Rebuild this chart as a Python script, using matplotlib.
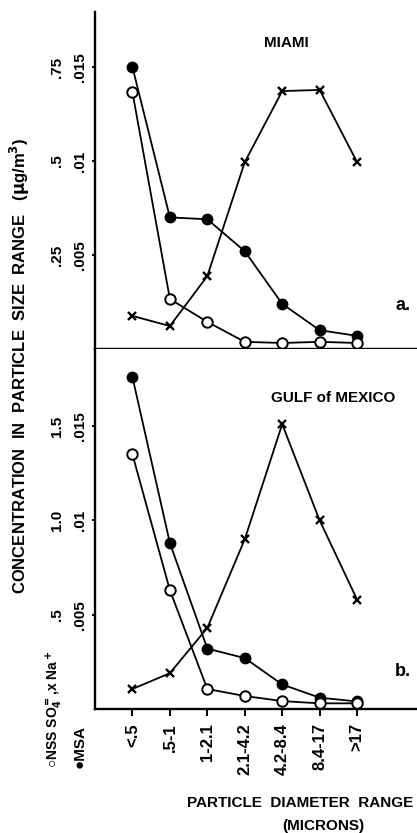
import matplotlib
matplotlib.use('Agg')
import matplotlib.pyplot as plt

plt.rcParams['font.family'] = ['Liberation Sans', 'DejaVu Sans']
plt.rcParams['font.weight'] = 'bold'
plt.rcParams['mathtext.default'] = 'bf'

# particle size classes (microns)
cats = ['<.5', '.5-1', '1-2.1', '2.1-4.2', '4.2-8.4', '8.4-17', '>17']

# MIAMI  (MSA on the small scale, NSS SO4= and Na+ on the large scale, ug/m3)
miami_msa = [0.0150, 0.0070, 0.0069, 0.0052, 0.0024, 0.0010, 0.0007]
miami_nss = [0.683, 0.133, 0.072, 0.019, 0.016, 0.019, 0.016]
miami_na = [0.088, 0.061, 0.194, 0.497, 0.686, 0.689, 0.497]

# GULF of MEXICO
gulf_msa = [0.0176, 0.0088, 0.0032, 0.0027, 0.0013, 0.0006, 0.0004]
gulf_nss = [1.35, 0.63, 0.106, 0.069, 0.042, 0.030, 0.030]
gulf_na = [0.106, 0.19, 0.43, 0.90, 1.51, 1.00, 0.58]

inner_ticks = [0.005, 0.01, 0.015]
inner_labels = ['.005', '.01', '.015']
miami_outer = [0.25, 0.5, 0.75]
miami_outer_labels = ['.25', '.5', '.75']
gulf_outer = [0.5, 1.0, 1.5]
gulf_outer_labels = ['.5', '1.0', '1.5']

FS = 11
x = list(range(len(cats)))

fig = plt.figure(figsize=(4.17, 8.33), dpi=100)
ax1 = fig.add_axes([95/417, 1-349/833, 1-95/417, (349-12)/833])
ax2 = fig.add_axes([95/417, 1-709/833, 1-95/417, (709-349)/833])


def panel(ax, msa, nss, na, factor, ytop, outer, outer_labels):
    nss_s = [v/factor for v in nss]
    na_s = [v/factor for v in na]
    ax.plot(x, na_s, color='black', lw=1.3, marker='x', ms=6, mew=1.7, zorder=2)
    ax.plot(x, msa, color='black', lw=1.3, marker='o', ms=7.5, zorder=3)
    ax.plot(x, nss_s, color='black', lw=1.3, marker='o', ms=7.5, mfc='white',
            mew=1.4, zorder=4)
    ax.set_xlim(-1.0, 7.6)
    ax.set_ylim(0, ytop)
    for s in ['top', 'right']:
        ax.spines[s].set_visible(False)
    ax.spines['left'].set_linewidth(1.7)
    ax.spines['bottom'].set_linewidth(1.7)
    ax.set_xticks(x)
    ax.tick_params(axis='x', direction='out', length=5, width=1.4, pad=5)
    ax.set_yticks(inner_ticks)
    ax.set_yticklabels(inner_labels, rotation=90, va='center', fontsize=FS)
    ax.tick_params(axis='y', direction='out', length=2.5, width=1.4, pad=3)
    sec = ax.secondary_yaxis('left', functions=(lambda v: v*factor, lambda v: v/factor))
    sec.set_yticks(outer)
    sec.set_yticklabels(outer_labels, rotation=90, va='center', fontsize=FS)
    sec.tick_params(length=0, pad=22)
    sec.spines['left'].set_visible(False)


panel(ax1, miami_msa, miami_nss, miami_na, 50, (349-12)/94*0.005,
      miami_outer, miami_outer_labels)
panel(ax2, gulf_msa, gulf_nss, gulf_na, 100, (709-349)/94.3*0.005,
      gulf_outer, gulf_outer_labels)

ax1.set_xticklabels([])
ax2.set_xticklabels(cats, rotation=90, fontsize=12)

ax1.text(0.593, 0.908, 'MIAMI', transform=ax1.transAxes, ha='center', va='center',
         fontsize=FS)
ax1.text(0.957, 0.128, 'a.', transform=ax1.transAxes, ha='center', va='center',
         fontsize=FS+2)
ax2.text(0.739, 0.864, 'GULF of MEXICO', transform=ax2.transAxes, ha='center',
         va='center', fontsize=FS)
ax2.text(0.957, 0.103, 'b.', transform=ax2.transAxes, ha='center', va='center',
         fontsize=FS+2)

fig.text(20/417, 1-366/833, 'CONCENTRATION  IN  PARTICLE  SIZE  RANGE   ($\\mu$g/m$^3$)',
         rotation=90, ha='center', va='center', fontsize=12)
fig.text(54/417, 1-768/833, '\u25cbNSS SO$_4^=$,x Na$^+$', rotation=90,
         rotation_mode='anchor', ha='left', va='center', fontsize=10)
fig.text(80/417, 1-768/833, '\u25cfMSA', rotation=90, rotation_mode='anchor',
         ha='left', va='center', fontsize=FS)

fig.text(300/417, 1-803/833, 'PARTICLE  DIAMETER  RANGE', ha='center', va='center',
         fontsize=FS)
fig.text(323/417, 1-826/833, '(MICRONS)', ha='center', va='center', fontsize=FS)

fig.savefig('out.png', dpi=100, facecolor='white')
